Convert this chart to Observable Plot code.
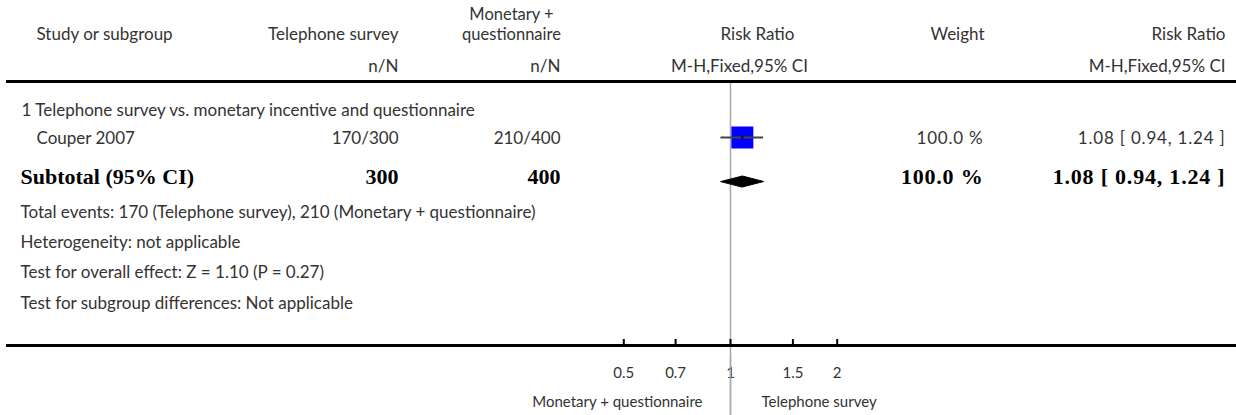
<!DOCTYPE html>
<html><head><meta charset="utf-8">
<script src="https://cdn.jsdelivr.net/npm/d3@7"></script>
<script src="https://cdn.jsdelivr.net/npm/@observablehq/plot@0.6"></script>
<style>html,body{margin:0;padding:0;background:#fff;overflow:hidden} svg{display:block}</style>
</head><body><div id="chart"></div>
<script>
// ---- data ----
const studies = ["Couper 2007"];
const eventsTel = [170];
const totalTel = [300];
const eventsMon = [210];
const totalMon = [400];
const rr = [1.08];
const ciLow = [0.94];
const ciHigh = [1.24];
const weights = [100.0];
const subtotalRR = [1.08];
const subtotalLow = [0.94];
const subtotalHigh = [1.24];
const subtotalWeight = ["100.0 %"];
const groupTitle = ["1 Telephone survey vs. monetary incentive and questionnaire"];
const notes = [
  "Total events: 170 (Telephone survey), 210 (Monetary + questionnaire)",
  "Heterogeneity: not applicable",
  "Test for overall effect: Z = 1.10 (P = 0.27)",
  "Test for subgroup differences: Not applicable"
];
const ticks = [0.5, 0.7, 1, 1.5, 2];
const tickLabels = ["0.5", "0.7", "1", "1.5", "2"];
const favoursLeft = ["Monetary + questionnaire"];
const favoursRight = ["Telephone survey"];
const headerMon = ["Monetary +\nquestionnaire"];

// ---- layout ----
const W = 1236, H = 415, ML = 6;
const Y = {hMon: 23, h1: 34.5, h2: 66.5, line: 81, group: 110, study: 138.5, subtotal: 176,
           notes: [212, 242, 272.5, 303.5], axis: 345, tickLab: 373, fav: 402};
const COL = {group: 20, groupTitle: 21, study: 36, tel: 398, mon: 560, monC: 511, rrHead: 757, rrSub: 739,
             wtC: 957, wt: 983, rr2: 1225};
const FONT = "Lato, 'Noto Sans', sans-serif";
const BOLD = "'Liberation Serif', 'DejaVu Serif', serif";
const TXT = "#333";
const FS = 17;

function cell(texts, ys, px, anchor, extra = {}) {
  return Plot.text(texts, {
    y: (d, i) => (Array.isArray(ys) ? ys[i] : ys),
    text: d => d,
    frameAnchor: "left",
    dx: px - ML,
    textAnchor: anchor,
    fill: TXT,
    fontFamily: FONT,
    fontSize: FS,
    ...extra
  });
}
const bold = {fontFamily: BOLD, fontWeight: "bold", fontSize: 22, fill: "#000"};
const idx = studies.map((d, i) => i);
const fmt = v => v.toFixed(2);
const ciText = (e, l, h) => `${fmt(e)} [ ${fmt(l)}, ${fmt(h)} ]`;
const diamond = [
  {x: subtotalLow[0], y: 181},
  {x: subtotalRR[0], y: 181 - 5.5},
  {x: subtotalHigh[0], y: 181},
  {x: subtotalRR[0], y: 181 + 5.5}
];

const chart = Plot.plot({
  width: W, height: H,
  marginLeft: ML, marginRight: 0, marginTop: 0, marginBottom: 0,
  style: {fontFamily: FONT, background: "#fff"},
  x: {type: "log", domain: [0.5, 2], range: [623.3, 836.7], axis: null},
  y: {type: "identity", axis: null},
  marks: [
    // header
    cell(["Study or subgroup"], Y.h1, COL.study, "start"),
    cell(["Telephone survey"], Y.h1, COL.tel, "end"),
    cell(headerMon, Y.hMon, COL.monC, "middle", {fontSize: 16.5, lineHeight: 1.25}),
    cell(["Risk Ratio"], Y.h1, COL.rrHead, "middle"),
    cell(["Weight"], Y.h1, COL.wtC, "middle"),
    cell(["Risk Ratio"], Y.h1, COL.rr2, "end"),
    cell(["n/N"], Y.h2, COL.tel, "end"),
    cell(["n/N"], Y.h2, COL.mon, "end"),
    cell(["M-H,Fixed,95% CI"], Y.h2, COL.rrSub, "middle"),
    cell(["M-H,Fixed,95% CI"], Y.h2, COL.rr2, "end"),
    // reference line at 1
    Plot.ruleX([1], {x: d => d, y1: Y.line, y2: H, stroke: "#aaa", strokeWidth: 1.5}),
    Plot.ruleY([Y.line], {y: d => d, stroke: "#000", strokeWidth: 3}),
    // group and study rows
    cell(groupTitle, Y.group, COL.groupTitle, "start"),
    cell(studies, Y.study, COL.study, "start"),
    cell(idx.map(i => `${eventsTel[i]}/${totalTel[i]}`), Y.study, COL.tel, "end"),
    cell(idx.map(i => `${eventsMon[i]}/${totalMon[i]}`), Y.study, COL.mon, "end"),
    cell(idx.map(i => `${weights[i].toFixed(1)} %`), Y.study, COL.wt, "end"),
    cell(idx.map(i => ciText(rr[i], ciLow[i], ciHigh[i])), Y.study, COL.rr2, "end"),
    Plot.dot(idx, {x: i => rr[i], y: () => 137, symbol: "square", r: 12.41, fill: "#0000ff", stroke: "none"}),
    Plot.ruleY(idx, {y: () => 137, x1: i => ciLow[i], x2: i => ciHigh[i], stroke: "#444", strokeWidth: 2}),
    Plot.ruleX(idx, {x: i => rr[i], y1: () => 135, y2: () => 139, stroke: "#111", strokeWidth: 2}),
    // subtotal
    cell(["Subtotal (95% CI)"], Y.subtotal, COL.group, "start", bold),
    cell([String(d3.sum(totalTel))], Y.subtotal, COL.tel, "end", bold),
    cell([String(d3.sum(totalMon))], Y.subtotal, COL.mon, "end", bold),
    cell(subtotalWeight, Y.subtotal, COL.wt, "end", bold),
    cell([ciText(subtotalRR[0], subtotalLow[0], subtotalHigh[0])], Y.subtotal, COL.rr2, "end", bold),
    Plot.line(diamond, {x: "x", y: "y", fill: "#000", stroke: "#000", strokeWidth: 1, curve: "linear-closed"}),
    // notes
    cell(notes, Y.notes, COL.group, "start"),
    // axis
    Plot.ruleY([Y.axis], {y: d => d, stroke: "#000", strokeWidth: 3}),
    Plot.ruleX(ticks, {x: d => d, y1: Y.axis - 6, y2: Y.axis, stroke: "#000", strokeWidth: 2}),
    Plot.text(ticks, {x: d => d, y: () => Y.tickLab, text: (d, i) => tickLabels[i], fill: TXT, fontSize: 15, fontFamily: FONT}),
    Plot.ruleX([1], {x: d => d, y1: Y.axis + 10, y2: H, stroke: "#aaa", strokeWidth: 1.5}),
    Plot.text(favoursLeft, {x: () => 1, y: () => Y.fav, text: d => d, textAnchor: "end", dx: -28, fill: TXT, fontSize: 15, fontFamily: FONT}),
    Plot.text(favoursRight, {x: () => 1, y: () => Y.fav, text: d => d, textAnchor: "start", dx: 31, fill: TXT, fontSize: 15, fontFamily: FONT})
  ]
});
// widen the numeric cells slightly to match the reference typeface spacing
const spacing = new Map([
  [ciText(subtotalRR[0], subtotalLow[0], subtotalHigh[0]), "1.1px"],
  [subtotalWeight[0], "1.5px"],
  [ciText(rr[0], ciLow[0], ciHigh[0]), "0.8px"],
  [`${weights[0].toFixed(1)} %`, "0.8px"]
]);
d3.select(chart).selectAll("text").each(function () {
  const s = spacing.get(this.textContent);
  if (s) this.setAttribute("letter-spacing", s);
});
document.getElementById("chart").append(chart);
</script>
</body></html>
